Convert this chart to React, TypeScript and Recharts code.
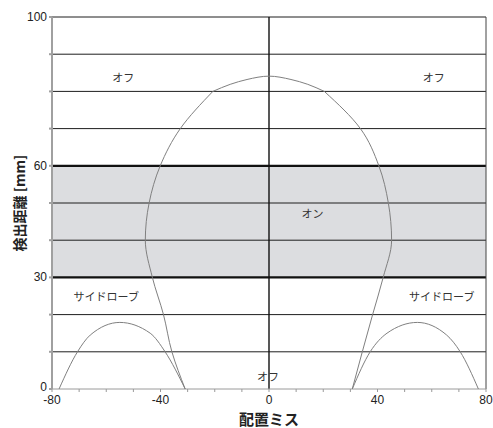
import React from 'react';
import {
  ComposedChart,
  Scatter,
  XAxis,
  YAxis,
  ReferenceArea,
  ReferenceLine,
  ReferenceDot,
  Label,
} from 'recharts';

// main detection lobe: lower flanks (y rising) and the top arc
const mainLeft = [
  { x: -30.9, y: 0 },
  { x: -35.8, y: 10 },
  { x: -38.9, y: 20 },
  { x: -43.0, y: 30 },
  { x: -45.6, y: 40 },
  { x: -44.2, y: 50 },
  { x: -40.1, y: 60 },
  { x: -32.7, y: 70 },
  { x: -20.7, y: 80 },
];
const mainRight = [
  { x: 30.7, y: 0 },
  { x: 34.4, y: 10 },
  { x: 38.2, y: 20 },
  { x: 42.1, y: 30 },
  { x: 45.2, y: 40 },
  { x: 44.0, y: 50 },
  { x: 40.5, y: 60 },
  { x: 33.7, y: 70 },
  { x: 20.4, y: 80 },
];
const mainTop = [
  { x: -20.7, y: 80 },
  { x: -14.3, y: 81.9 },
  { x: -8.1, y: 83.2 },
  { x: 0, y: 84.1 },
  { x: 8.1, y: 83.2 },
  { x: 14.3, y: 81.9 },
  { x: 20.4, y: 80 },
];

// side lobes
const sideLeft = [
  { x: -77.4, y: 0 },
  { x: -70.6, y: 10 },
  { x: -65.9, y: 14.5 },
  { x: -55.0, y: 17.9 },
  { x: -43.8, y: 15 },
  { x: -38.3, y: 10 },
  { x: -30.9, y: 0 },
];
const sideRight = [
  { x: 30.7, y: 0 },
  { x: 37.3, y: 10 },
  { x: 43.5, y: 15 },
  { x: 54.7, y: 17.9 },
  { x: 65.5, y: 14.5 },
  { x: 70.5, y: 10 },
  { x: 77.2, y: 0 },
];

const xTicks = [-80, -70, -60, -50, -40, -30, -20, -10, 0, 10, 20, 30, 40, 50, 60, 70, 80];
const xTickLabels = [-80, -40, 0, 40, 80];
const yTicks = [0, 10, 20, 30, 40, 50, 60, 70, 80, 90, 100];
const yTickLabels = [0, 30, 60, 100];
const gridLines = [10, 20, 40, 50, 70, 80, 90, 100];
const boldLines = [30, 60];
const onBand = [30, 60];

const zoneLabels = [
  { x: -53.7, y: 83.5, text: 'オフ' },
  { x: 60.7, y: 83.7, text: 'オフ' },
  { x: 16, y: 47, text: 'オン' },
  { x: -60, y: 24.8, text: 'サイドローブ' },
  { x: 63.7, y: 24.8, text: 'サイドローブ' },
  { x: -0.4, y: 3.3, text: 'オフ' },
];

const jp = '"Noto Sans CJK JP", sans-serif';
const num = '"Liberation Sans Narrow", "Liberation Sans", Arial, sans-serif';
const curve = { stroke: '#808080', strokeWidth: 1, fill: 'none' };
const noDot = () => <g />;

const YTick = (p: any) => {
  const v = p.payload.value;
  if (!yTickLabels.includes(v)) return <g />;
  return (
    <text x={p.x} y={v === 0 ? p.y - 2 : p.y} textAnchor="end" dominantBaseline="central" fill="#222" fontSize={12} fontFamily={num}>
      {v}
    </text>
  );
};

const XTick = (p: any) => {
  const v = p.payload.value;
  if (!xTickLabels.includes(v)) return <g />;
  return (
    <text x={p.x} y={p.y + 1} textAnchor="middle" dominantBaseline="hanging" fill="#222" fontSize={12} fontFamily={num}>
      {v}
    </text>
  );
};

export default function App() {
  return (
    <div style={{ position: 'absolute', left: 0, top: 0, width: 493, height: 428, background: '#fff' }}>
      <ComposedChart width={493} height={428} margin={{ top: 17, right: 7, bottom: 0, left: 0 }}>
        <XAxis
          type="number"
          dataKey="x"
          domain={[-80, 80]}
          ticks={xTicks}
          interval={0}
          height={39}
          tickSize={3}
          stroke="#9a9a9a"
          tick={<XTick />}
        >
          <Label
            content={(p: any) => {
              const vb = p.viewBox;
              return (
                <text
                  x={vb.x + vb.width / 2}
                  y={vb.y + 29}
                  textAnchor="middle"
                  dominantBaseline="central"
                  fontFamily={jp}
                  fontWeight={700}
                  fontSize={15}
                  fill="#222"
                >
                  配置ミス
                </text>
              );
            }}
          />
        </XAxis>
        <YAxis
          type="number"
          dataKey="y"
          domain={[0, 100]}
          ticks={yTicks}
          interval={0}
          width={52}
          tickSize={3}
          stroke="#a0a0a0"
          strokeWidth={2}
          tick={<YTick />}
        >
          <Label
            content={(p: any) => {
              const vb = p.viewBox;
              const cx = vb.x + 19;
              const cy = vb.y + vb.height / 2;
              return (
                <text
                  x={cx}
                  y={cy}
                  transform={`rotate(-90 ${cx} ${cy})`}
                  textAnchor="middle"
                  dominantBaseline="central"
                  fontFamily={jp}
                  fontWeight={700}
                  fontSize={14}
                  fill="#222"
                >
                  検出距離 [mm]
                </text>
              );
            }}
          />
        </YAxis>

        <ReferenceArea y1={onBand[0]} y2={onBand[1]} fill="#dcdde0" fillOpacity={1} stroke="none" />
        {gridLines.map((v) => (
          <ReferenceLine key={`g${v}`} y={v} stroke="#1e1e1e" strokeWidth={1} />
        ))}
        {boldLines.map((v) => (
          <ReferenceLine key={`b${v}`} y={v} stroke="#111" strokeWidth={2.2} />
        ))}
        <ReferenceLine x={0} stroke="#111" strokeWidth={1.4} />
        <ReferenceLine x={80} stroke="#444" strokeWidth={1} />

        <Scatter data={mainLeft} line={curve} lineJointType="monotoneY" shape={noDot} isAnimationActive={false} />
        <Scatter data={mainRight} line={curve} lineJointType="monotoneY" shape={noDot} isAnimationActive={false} />
        <Scatter data={mainTop} line={curve} lineJointType="monotoneX" shape={noDot} isAnimationActive={false} />
        <Scatter data={sideLeft} line={curve} lineJointType="monotoneX" shape={noDot} isAnimationActive={false} />
        <Scatter data={sideRight} line={curve} lineJointType="monotoneX" shape={noDot} isAnimationActive={false} />

        {zoneLabels.map((l, i) => (
          <ReferenceDot
            key={i}
            x={l.x}
            y={l.y}
            r={0}
            fill="none"
            stroke="none"
            label={{ value: l.text, position: 'center', fill: '#333', fontSize: 11, fontFamily: jp }}
          />
        ))}
      </ComposedChart>
    </div>
  );
}
